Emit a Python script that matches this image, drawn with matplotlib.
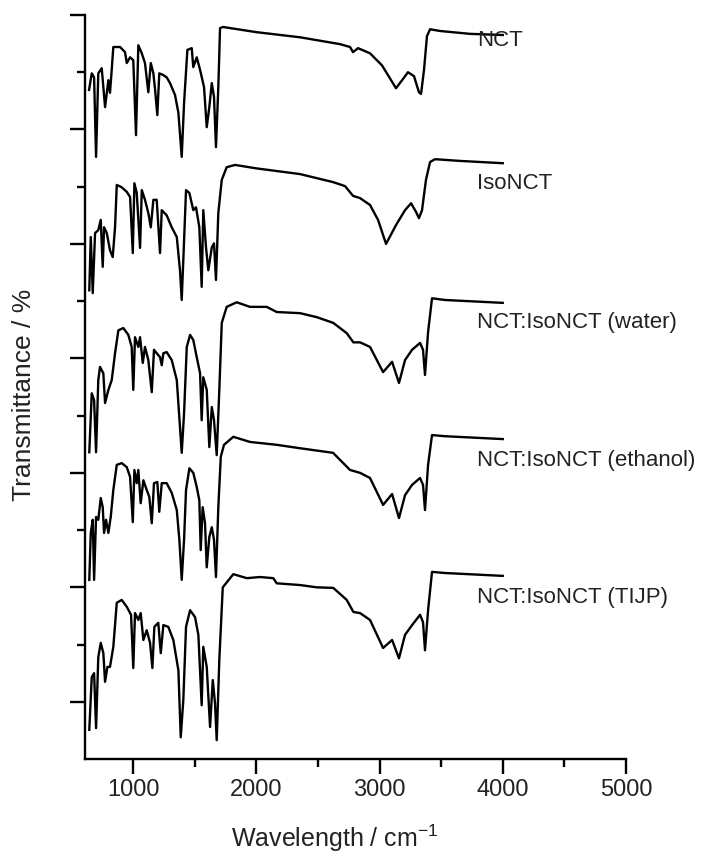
import matplotlib

matplotlib.use("Agg")
import matplotlib.pyplot as plt
from matplotlib.ticker import FixedLocator

plt.rcParams["font.family"] = ["Liberation Sans", "DejaVu Sans"]
plt.rcParams["mathtext.default"] = "regular"

# IR spectra (wavenumber in cm-1, stacked transmittance in arb. units)
nct_wn = [643, 665, 684, 700, 718, 746, 773, 800, 813, 827, 840, 895, 935, 949, 976,
          1002, 1024, 1043, 1071, 1097, 1124, 1144, 1165, 1179, 1197, 1213, 1246, 1273,
          1300, 1341, 1368, 1395, 1414, 1441, 1476, 1489, 1517, 1544, 1576, 1598, 1619,
          1639, 1657, 1673, 1692, 1706, 1730, 2000, 2355, 2680, 2761, 2785, 2826, 2923,
          3020, 3134, 3183, 3231, 3280, 3320, 3337, 3361, 3385, 3410, 3491, 3734, 4000]
nct_t = [116.9, 119.8, 119.1, 105.2, 119.8, 120.7, 113.9, 118.6, 116.4, 120.4, 124.4,
         124.4, 123.5, 121.6, 122.6, 122.1, 109.0, 124.7, 123.3, 121.6, 116.5, 121.6,
         119.8, 116.9, 112.5, 119.8, 119.5, 119.1, 118.1, 116.0, 112.9, 105.2, 114.6,
         123.9, 124.2, 120.9, 122.6, 120.4, 117.4, 110.4, 113.9, 118.1, 115.7, 106.9,
         117.4, 127.7, 127.9, 127.0, 126.1, 124.9, 124.4, 123.5, 124.2, 123.3, 121.2,
         117.2, 118.6, 120.0, 119.3, 116.5, 116.2, 120.4, 126.3, 127.5, 127.2, 126.7,
         126.5]

iso_wn = [645, 657, 673, 692, 718, 738, 754, 765, 787, 813, 835, 854, 868, 908, 949,
          976, 998, 1011, 1030, 1057, 1071, 1097, 1124, 1144, 1165, 1192, 1219, 1233,
          1273, 1314, 1355, 1381, 1395, 1408, 1430, 1457, 1489, 1511, 1538, 1557, 1570,
          1592, 1611, 1639, 1657, 1673, 1692, 1720, 1760, 1828, 2000, 2355, 2623, 2720,
          2785, 2842, 2923, 2988, 3053, 3134, 3207, 3256, 3296, 3320, 3345, 3377, 3410,
          3450, 3653, 4000]
iso_t = [81.9, 91.2, 81.4, 91.9, 92.4, 94.2, 86.0, 92.9, 91.9, 88.9, 87.7, 92.9, 100.3,
         99.9, 99.1, 98.2, 88.4, 100.6, 98.9, 89.3, 99.4, 97.7, 95.4, 92.9, 97.7, 97.7,
         88.4, 95.9, 95.0, 92.9, 91.2, 85.4, 80.2, 87.2, 99.4, 98.9, 95.9, 96.4, 92.9,
         82.5, 95.9, 89.4, 85.4, 89.4, 90.1, 83.7, 95.4, 101.2, 103.4, 103.8, 103.2,
         102.2, 100.8, 100.1, 98.4, 98.0, 96.8, 94.2, 90.0, 93.3, 95.9, 97.1, 95.6, 94.5,
         95.9, 101.2, 104.3, 104.8, 104.5, 104.1]

water_wn = [645, 665, 684, 700, 718, 732, 759, 773, 800, 827, 854, 881, 921, 962, 989,
            1002, 1016, 1043, 1057, 1079, 1097, 1124, 1152, 1170, 1192, 1219, 1233, 1246,
            1273, 1314, 1355, 1381, 1395, 1414, 1436, 1463, 1489, 1517, 1544, 1557, 1570,
            1598, 1619, 1639, 1657, 1679, 1700, 1720, 1760, 1841, 1949, 2085, 2166, 2355,
            2491, 2625, 2734, 2788, 2842, 2923, 3029, 3102, 3158, 3207, 3264, 3329, 3353,
            3369, 3394, 3426, 3532, 4000]
water_t = [53.6, 63.9, 62.7, 53.6, 66.2, 68.5, 67.4, 62.2, 64.5, 66.2, 70.9, 74.9, 75.3,
           74.1, 72.0, 64.5, 73.7, 72.0, 73.7, 69.2, 72.0, 69.7, 64.1, 71.5, 70.9, 70.2,
           68.8, 70.9, 71.1, 69.7, 66.2, 58.0, 53.5, 60.4, 72.0, 74.1, 73.2, 70.2, 67.4,
           59.2, 66.7, 64.5, 54.5, 61.5, 59.2, 53.1, 64.5, 76.2, 79.0, 79.8, 79.0, 79.0,
           78.1, 77.9, 77.2, 76.2, 74.4, 72.8, 72.8, 72.0, 67.6, 69.4, 65.7, 69.7, 71.5,
           72.7, 71.5, 67.1, 74.6, 80.5, 80.2, 79.7]

eth_wn = [645, 657, 673, 684, 700, 718, 738, 754, 765, 781, 800, 819, 840, 868, 908, 949,
          976, 998, 1011, 1030, 1043, 1062, 1084, 1111, 1132, 1152, 1170, 1197, 1213,
          1233, 1273, 1314, 1355, 1376, 1395, 1414, 1430, 1457, 1489, 1517, 1538, 1549,
          1565, 1584, 1598, 1619, 1639, 1657, 1673, 1692, 1712, 1738, 1814, 1949, 2166,
          2355, 2623, 2761, 2842, 2923, 3029, 3102, 3158, 3207, 3264, 3329, 3353, 3369,
          3394, 3426, 3532, 4000]
eth_t = [31.3, 39.5, 41.8, 31.3, 42.3, 41.8, 45.6, 44.0, 39.5, 41.8, 39.5, 42.3, 47.0,
         51.4, 51.7, 51.0, 49.3, 41.4, 50.5, 48.2, 50.5, 44.7, 48.7, 47.0, 45.8, 41.2,
         48.2, 48.4, 43.2, 48.2, 48.2, 46.5, 43.5, 38.3, 31.3, 38.3, 47.0, 50.8, 50.0,
         47.5, 45.2, 36.5, 44.0, 41.2, 33.5, 38.8, 40.5, 38.3, 31.8, 44.0, 52.8, 54.9,
         56.3, 55.4, 54.9, 54.3, 53.5, 50.5, 50.0, 49.1, 44.4, 46.3, 42.1, 46.1, 47.9,
         49.1, 47.9, 43.5, 51.4, 56.6, 56.4, 55.9]

tijp_wn = [645, 665, 684, 700, 718, 738, 759, 773, 792, 813, 840, 868, 908, 949, 984,
           1002, 1016, 1043, 1062, 1084, 1111, 1138, 1157, 1173, 1205, 1225, 1246, 1286,
           1327, 1368, 1387, 1408, 1430, 1463, 1503, 1530, 1557, 1570, 1598, 1625, 1647,
           1665, 1679, 1700, 1728, 1814, 1923, 2030, 2138, 2166, 2355, 2491, 2625, 2734,
           2788, 2842, 2923, 3029, 3102, 3158, 3207, 3264, 3329, 3353, 3369, 3394, 3426,
           3532, 4000]
tijp_t = [5.1, 14.3, 15.0, 5.4, 17.8, 20.3, 18.5, 13.5, 16.1, 16.1, 19.6, 27.3, 27.8,
          26.6, 25.2, 15.9, 25.5, 24.3, 25.5, 20.8, 22.5, 20.3, 15.9, 23.1, 23.8, 18.5,
          23.4, 23.1, 20.8, 15.5, 3.8, 10.3, 23.1, 26.0, 24.8, 21.7, 9.4, 19.6, 16.1, 5.6,
          13.8, 9.8, 3.3, 17.3, 30.0, 32.3, 31.6, 31.8, 31.6, 30.7, 30.4, 30.0, 29.9,
          27.8, 25.7, 25.5, 24.3, 19.4, 20.8, 17.6, 21.7, 23.4, 25.2, 23.9, 19.0, 26.0,
          32.7, 32.5, 32.0]

labels = ["NCT", "IsoNCT", "NCT:IsoNCT (water)", "NCT:IsoNCT (ethanol)", "NCT:IsoNCT (TIJP)"]
label_y = [125.6, 100.6, 76.2, 52.1, 28.3]

spectra = [(nct_wn, nct_t), (iso_wn, iso_t), (water_wn, water_t),
           (eth_wn, eth_t), (tijp_wn, tijp_t)]

fig = plt.figure(figsize=(7.04, 8.60), dpi=100)
ax = fig.add_axes([0.1207, 0.1174, 0.7685, 0.8652])

for (wn, t), name, ly in zip(spectra, labels, label_y):
    ax.plot(wn, t, color="black", linewidth=1.7, solid_joinstyle="round")
    ax.text(3790, ly, name, fontsize=16, va="center", ha="left", color="#222222")

ax.set_xlim(610, 5000)
ax.set_ylim(0, 130)

ax.spines["top"].set_visible(False)
ax.spines["right"].set_visible(False)
for side in ["left", "bottom"]:
    ax.spines[side].set_linewidth(1.7)

ax.xaxis.set_major_locator(FixedLocator([1000, 2000, 3000, 4000, 5000]))
ax.xaxis.set_minor_locator(FixedLocator([1500, 2500, 3500, 4500]))
ax.yaxis.set_major_locator(FixedLocator([10, 30, 50, 70, 90, 110, 130]))
ax.yaxis.set_minor_locator(FixedLocator([20, 40, 60, 80, 100, 120]))
ax.set_yticklabels([])

ax.tick_params(which="major", direction="out", length=11, width=1.7, labelsize=17,
               labelcolor="#222222")
ax.tick_params(which="minor", direction="out", length=6, width=1.7)

ax.set_xlabel("Wavelength / cm$^{-1}$", fontsize=18, color="#222222")
ax.set_ylabel("Transmittance / %", fontsize=19, color="#222222")
ax.xaxis.set_label_coords(0.462, -0.085)
ax.yaxis.set_label_coords(-0.09, 0.49)

plt.savefig("out.png", dpi=100)
